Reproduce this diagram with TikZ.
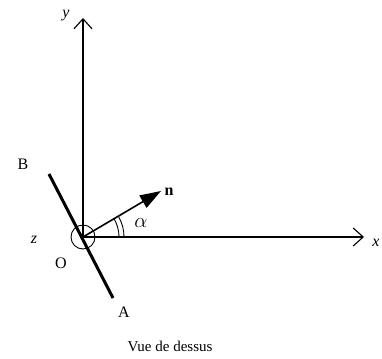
\documentclass[tikz,border=0pt]{standalone}
\usepackage{fontspec}
\setmainfont{Liberation Serif}
\usetikzlibrary{arrows.meta,calc}

\begin{document}
\begin{tikzpicture}[x=1pt,y=-1pt,>=Stealth,axis/.style={-{Straight Barb[length=10pt,width=18pt]},line width=1.1pt},lbl/.style={font=\fontsize{16}{18}\selectfont}]
\useasboundingbox (0,0) rectangle (382,358);
\coordinate (o) at (83,237);
\coordinate (ytip) at (83,18);
\coordinate (xtip) at (364,237);
\coordinate (b) at (49,174);
\coordinate (a) at (113,298);
\coordinate (ntip) at (161,191);
\draw[axis](o)--(ytip);\draw[axis](o)--(xtip);
\draw[line width=3pt](b)--(a);
\draw[line width=0.9pt](o) circle (12pt);
\draw[line width=1.6pt,-{Triangle[length=21pt,width=14pt]}](o)--(ntip);
\draw[line width=0.9pt]($(o)+(0:36pt)$) arc[start angle=0,end angle=30,radius=36pt];
\draw[line width=0.9pt]($(o)+(0:41pt)$) arc[start angle=0,end angle=30,radius=41pt];
\node[lbl](ylab) at (66,16){\textit{y}};
\node[lbl,anchor=east](xlab) at (383,243){\textit{x}};
\node[lbl](zlab) at (34,240){\textit{z}};
\node[lbl](olab) at (61,263){O};
\node[lbl](blab) at (23,164){B};
\node[lbl](alab) at (124,312){A};
\node[lbl](nlab) at (169,192){\textbf{n}};
\node[font=\fontsize{21}{23}\selectfont](alpha) at (141,223){$\alpha$};
\node[font=\fontsize{15}{17}\selectfont](title) at (170,346){Vue de dessus};
\end{tikzpicture}
\end{document}
